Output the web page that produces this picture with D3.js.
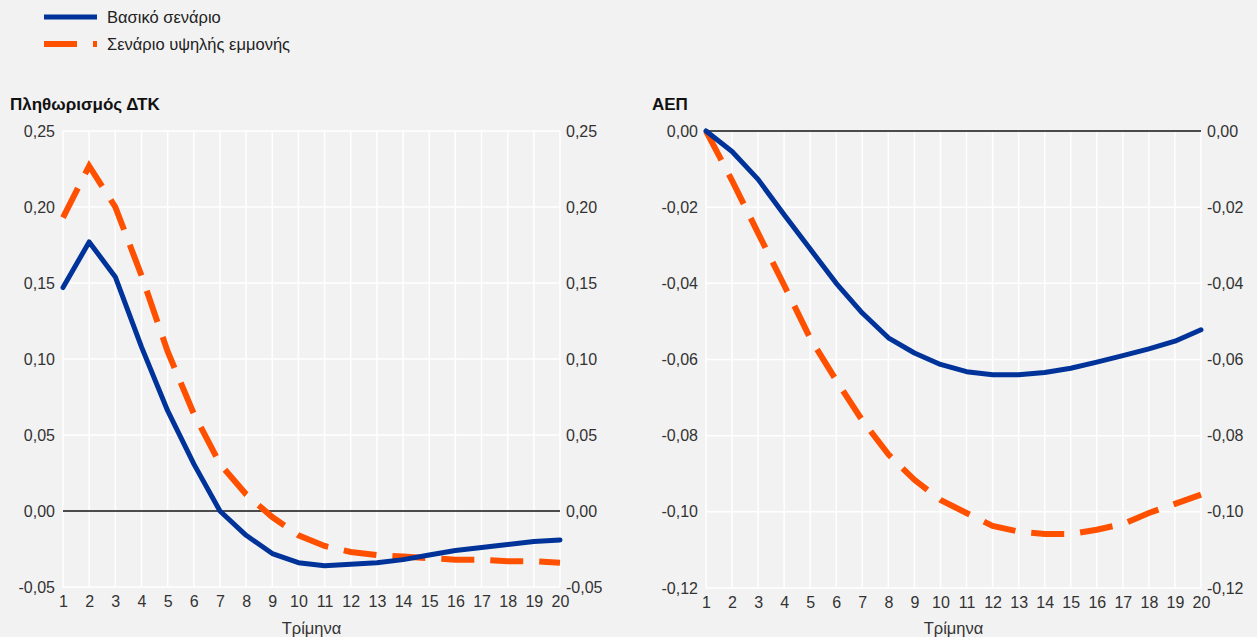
<!DOCTYPE html>
<html>
<head>
<meta charset="utf-8">
<script src="https://cdn.jsdelivr.net/npm/d3@7"></script>
<style>
  html, body { margin: 0; padding: 0; background: #f2f2f2; }
  svg { display: block; font-family: "Liberation Sans", Arial, sans-serif; }
  .tick text { fill: #333; font-size: 16px; }
</style>
</head>
<body>
<svg id="chart" width="1257" height="637"></svg>
<script>
// Quarters after the shock
const quarters = [1,2,3,4,5,6,7,8,9,10,11,12,13,14,15,16,17,18,19,20];

// HICP inflation response (percentage points)
const inflBaseline = [0.147,0.177,0.154,0.108,0.066,0.031,0.000,-0.016,-0.028,-0.034,-0.036,-0.035,-0.034,-0.032,-0.029,-0.026,-0.024,-0.022,-0.020,-0.019];
const inflPersistent = [0.193,0.227,0.200,0.155,0.105,0.064,0.031,0.011,-0.004,-0.016,-0.023,-0.027,-0.029,-0.030,-0.031,-0.032,-0.032,-0.033,-0.033,-0.034];

// GDP response (percent)
const gdpBaseline = [0.000,-0.0054,-0.0127,-0.0220,-0.0310,-0.0400,-0.0478,-0.0543,-0.0583,-0.0613,-0.0632,-0.0640,-0.0640,-0.0634,-0.0623,-0.0607,-0.0590,-0.0572,-0.0552,-0.0522];
const gdpPersistent = [0.000,-0.0130,-0.0268,-0.0405,-0.0544,-0.0655,-0.0760,-0.0849,-0.0916,-0.0969,-0.1003,-0.1037,-0.1052,-0.1058,-0.1058,-0.1047,-0.1032,-0.1003,-0.0979,-0.0955];

// Axis ticks
const inflTicks = [-0.05,0.00,0.05,0.10,0.15,0.20,0.25];
const gdpTicks = [-0.12,-0.10,-0.08,-0.06,-0.04,-0.02,0.00];

// Labels
const seriesNames = ["Βασικό σενάριο", "Σενάριο υψηλής εμμονής"];
const panelTitles = ["Πληθωρισμός ΔΤΚ", "ΑΕΠ"];
const xAxisTitle = "Τρίμηνα";

const BLUE = "#003399";
const ORANGE = "#ff5000";
const DASH = "33,16";

const locale = d3.formatLocale({decimal: ",", thousands: ".", grouping: [3], currency: ["", "€"], minus: "-"});
const fmt = locale.format(".2f");

const svg = d3.select("#chart");

// Legend
const legend = svg.append("g");
[[BLUE, null, 5], [ORANGE, DASH, 6]].forEach(([color, dash, w], i) => {
  const y = 17 + i * 27;
  legend.append("line")
    .attr("x1", 44).attr("x2", 97).attr("y1", y).attr("y2", y)
    .attr("stroke", color).attr("stroke-width", w)
    .attr("stroke-dasharray", dash);
  legend.append("text")
    .attr("x", 107).attr("y", y).attr("dy", "0.35em")
    .attr("fill", "#222").attr("font-size", 16.5)
    .text(seriesNames[i]);
});

function panel(cfg) {
  const g = svg.append("g");
  const x = d3.scaleLinear().domain([1, 20]).range([cfg.x0, cfg.x1]);
  const y = d3.scaleLinear().domain(cfg.domain).range([cfg.y1, cfg.y0]);

  // Title
  g.append("text")
    .attr("x", cfg.titleX).attr("y", 110)
    .attr("font-weight", "bold").attr("font-size", 17).attr("fill", "#111")
    .text(cfg.title);

  // Grid
  g.append("g").selectAll("line.v").data(quarters).join("line")
    .attr("x1", d => x(d)).attr("x2", d => x(d))
    .attr("y1", cfg.y0).attr("y2", cfg.y1)
    .attr("stroke", "#fff").attr("stroke-width", 1.5);
  g.append("g").selectAll("line.h").data(cfg.ticks).join("line")
    .attr("x1", cfg.x0).attr("x2", cfg.x1)
    .attr("y1", d => y(d)).attr("y2", d => y(d))
    .attr("stroke", "#fff").attr("stroke-width", 1.5);

  // Zero line
  g.append("line")
    .attr("x1", cfg.x0).attr("x2", cfg.x1)
    .attr("y1", y(0)).attr("y2", y(0))
    .attr("stroke", "#111").attr("stroke-width", 1.5);

  // Axes
  const left = g.append("g").attr("transform", `translate(${cfg.x0 - 8},0)`)
    .call(d3.axisLeft(y).tickValues(cfg.ticks).tickFormat(fmt).tickSize(0));
  const right = g.append("g").attr("transform", `translate(${cfg.x1 + 6},0)`)
    .call(d3.axisRight(y).tickValues(cfg.ticks).tickFormat(fmt).tickSize(0));
  const bottom = g.append("g").attr("transform", `translate(0,${cfg.y1 + 3})`)
    .call(d3.axisBottom(x).tickValues(quarters).tickFormat(d3.format("d")).tickSize(0));
  [left, right, bottom].forEach(a => {
    a.select(".domain").remove();
    a.selectAll("text").attr("font-family", null).attr("font-size", null);
  });
  left.selectAll("text").attr("x", 0);
  right.selectAll("text").attr("x", 0);
  bottom.selectAll("text").attr("dy", "0.85em");

  g.append("text")
    .attr("x", (cfg.x0 + cfg.x1) / 2).attr("y", 634)
    .attr("text-anchor", "middle").attr("font-size", 16.5).attr("fill", "#333")
    .text(xAxisTitle);

  // Series
  const line = d3.line().x((d, i) => x(quarters[i])).y(d => y(d));
  g.append("path").datum(cfg.persistent)
    .attr("d", line).attr("fill", "none")
    .attr("stroke", ORANGE).attr("stroke-width", 6)
    .attr("stroke-dasharray", DASH);
  g.append("path").datum(cfg.baseline)
    .attr("d", line).attr("fill", "none")
    .attr("stroke", BLUE).attr("stroke-width", 5)
    .attr("stroke-linejoin", "round").attr("stroke-linecap", "round");
}

panel({
  title: panelTitles[0], titleX: 10,
  x0: 63, x1: 560, y0: 131, y1: 587,
  domain: [-0.05, 0.25], ticks: inflTicks,
  baseline: inflBaseline, persistent: inflPersistent
});

panel({
  title: panelTitles[1], titleX: 652,
  x0: 706, x1: 1201, y0: 131, y1: 588,
  domain: [-0.12, 0], ticks: gdpTicks,
  baseline: gdpBaseline, persistent: gdpPersistent
});
</script>
</body>
</html>
